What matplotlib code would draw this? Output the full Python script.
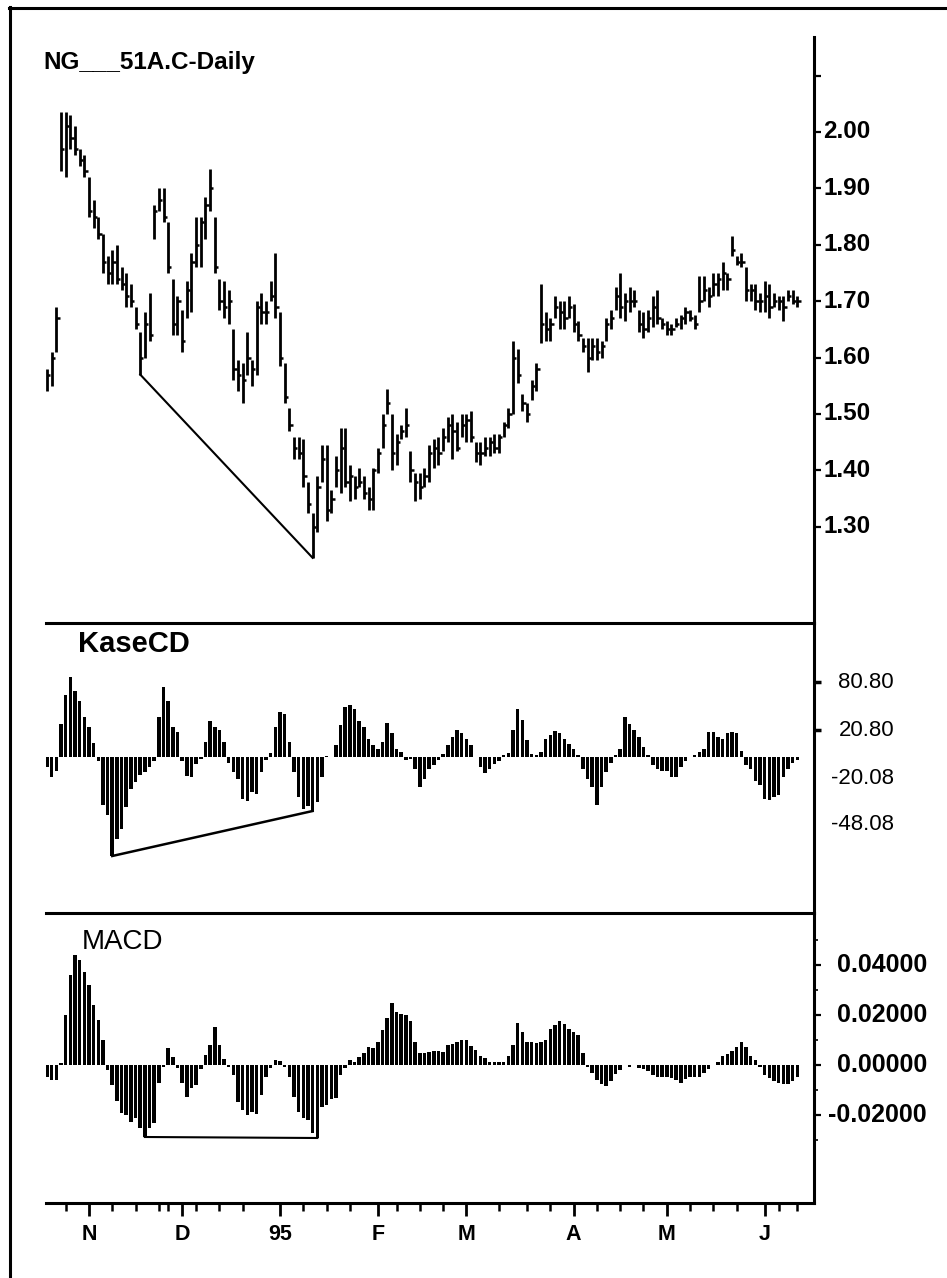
#!/usr/bin/env python3
"""
NG daily bar chart with KaseCD and MACD histograms (scanned chart redraw)
"""

import matplotlib
matplotlib.use("Agg")
import matplotlib.pyplot as plt
from matplotlib import font_manager
from matplotlib.lines import Line2D
from matplotlib.transforms import blended_transform_factory

# ---- data (one entry per trading day) ----
price_high = [
    1.58, 1.61, 1.69, 2.035, 2.035, 2.03, 2.01, 1.97, 1.96, 1.92,
    1.88, 1.85, 1.82, 1.78, 1.79, 1.80, 1.76, 1.75, 1.73, 1.69,
    1.645, 1.68, 1.715, 1.87, 1.90, 1.90, 1.84, 1.74, 1.71, 1.685,
    1.735, 1.785, 1.85, 1.85, 1.885, 1.935, 1.85, 1.74, 1.735, 1.72,
    1.65, 1.595, 1.59, 1.645, 1.595, 1.70, 1.715, 1.70, 1.735, 1.785,
    1.68, 1.59, 1.51, 1.46, 1.46, 1.455, 1.38, 1.325, 1.39, 1.445,
    1.445, 1.365, 1.425, 1.475, 1.475, 1.41, 1.39, 1.405, 1.39, 1.37,
    1.405, 1.44, 1.50, 1.545, 1.50, 1.465, 1.48, 1.51, 1.435, 1.395,
    1.395, 1.405, 1.445, 1.455, 1.46, 1.475, 1.495, 1.50, 1.485, 1.50,
    1.50, 1.505, 1.45, 1.45, 1.46, 1.46, 1.465, 1.465, 1.485, 1.51,
    1.63, 1.615, 1.535, 1.52, 1.56, 1.59, 1.73, 1.68, 1.67, 1.71,
    1.70, 1.70, 1.71, 1.695, 1.665, 1.635, 1.635, 1.635, 1.635, 1.63,
    1.67, 1.685, 1.725, 1.75, 1.715, 1.725, 1.72, 1.685, 1.68, 1.685,
    1.71, 1.72, 1.67, 1.665, 1.66, 1.67, 1.675, 1.69, 1.685, 1.675,
    1.745, 1.745, 1.725, 1.75, 1.75, 1.77, 1.75, 1.815, 1.78, 1.785,
    1.76, 1.73, 1.73, 1.715, 1.735, 1.73, 1.715, 1.71, 1.71, 1.72,
    1.72, 1.71,
]
price_low = [
    1.54, 1.55, 1.61, 1.93, 1.92, 1.97, 1.96, 1.94, 1.92, 1.85,
    1.83, 1.81, 1.75, 1.73, 1.73, 1.73, 1.72, 1.69, 1.69, 1.65,
    1.57, 1.60, 1.63, 1.81, 1.86, 1.84, 1.75, 1.64, 1.64, 1.61,
    1.67, 1.68, 1.76, 1.76, 1.81, 1.86, 1.75, 1.685, 1.67, 1.66,
    1.56, 1.54, 1.52, 1.57, 1.55, 1.57, 1.66, 1.66, 1.70, 1.67,
    1.585, 1.52, 1.47, 1.42, 1.42, 1.37, 1.325, 1.245, 1.29, 1.38,
    1.31, 1.325, 1.37, 1.36, 1.37, 1.345, 1.35, 1.37, 1.35, 1.33,
    1.33, 1.395, 1.44, 1.50, 1.40, 1.41, 1.455, 1.46, 1.38, 1.345,
    1.35, 1.37, 1.38, 1.405, 1.41, 1.435, 1.45, 1.42, 1.435, 1.46,
    1.45, 1.45, 1.415, 1.41, 1.425, 1.425, 1.43, 1.43, 1.46, 1.475,
    1.50, 1.555, 1.505, 1.485, 1.525, 1.54, 1.625, 1.63, 1.63, 1.67,
    1.65, 1.65, 1.67, 1.645, 1.63, 1.61, 1.575, 1.595, 1.595, 1.60,
    1.63, 1.65, 1.685, 1.67, 1.665, 1.68, 1.69, 1.645, 1.635, 1.645,
    1.655, 1.66, 1.65, 1.64, 1.64, 1.655, 1.65, 1.66, 1.665, 1.65,
    1.68, 1.70, 1.69, 1.71, 1.71, 1.72, 1.72, 1.78, 1.765, 1.76,
    1.70, 1.70, 1.685, 1.68, 1.68, 1.67, 1.69, 1.685, 1.665, 1.70,
    1.695, 1.69,
]
price_close = [
    1.57, 1.60, 1.67, 1.97, 2.01, 1.99, 1.97, 1.95, 1.93, 1.86,
    1.85, 1.82, 1.77, 1.75, 1.77, 1.74, 1.73, 1.71, 1.70, 1.66,
    1.60, 1.66, 1.64, 1.86, 1.88, 1.85, 1.76, 1.66, 1.70, 1.63,
    1.72, 1.77, 1.80, 1.84, 1.87, 1.90, 1.76, 1.70, 1.69, 1.70,
    1.58, 1.57, 1.56, 1.60, 1.58, 1.69, 1.68, 1.68, 1.71, 1.69,
    1.60, 1.53, 1.48, 1.44, 1.43, 1.39, 1.34, 1.30, 1.37, 1.42,
    1.33, 1.35, 1.40, 1.44, 1.38, 1.39, 1.37, 1.38, 1.36, 1.35,
    1.40, 1.43, 1.48, 1.52, 1.43, 1.45, 1.47, 1.48, 1.40, 1.38,
    1.37, 1.39, 1.43, 1.44, 1.43, 1.46, 1.48, 1.47, 1.44, 1.48,
    1.49, 1.46, 1.43, 1.43, 1.44, 1.45, 1.44, 1.46, 1.48, 1.50,
    1.60, 1.57, 1.52, 1.50, 1.55, 1.58, 1.66, 1.65, 1.66, 1.69,
    1.68, 1.67, 1.69, 1.66, 1.64, 1.62, 1.60, 1.62, 1.61, 1.62,
    1.66, 1.67, 1.71, 1.69, 1.70, 1.70, 1.70, 1.66, 1.65, 1.67,
    1.69, 1.67, 1.66, 1.65, 1.65, 1.66, 1.67, 1.68, 1.67, 1.66,
    1.70, 1.72, 1.71, 1.73, 1.74, 1.75, 1.74, 1.79, 1.77, 1.77,
    1.72, 1.72, 1.70, 1.70, 1.71, 1.69, 1.70, 1.70, 1.69, 1.71,
    1.70, 1.70,
]
kase_cd = [
    -10, -20, -14, 33, 62, 80, 66, 56, 40, 30,
    14, -4, -48, -58, -99, -82, -72, -50, -32, -25,
    -18, -15, -10, -4, 40, 70, 56, 30, 25, -4,
    -19, -20, -7, -2, 15, 36, 30, 27, 15, -6,
    -15, -22, -42, -44, -35, -37, -15, -3, 4, 30,
    45, 43, 15, -15, -40, -52, -49, -54, -45, -20,
    1, 0, 12, 32, 50, 52, 48, 36, 30, 18,
    12, 8, 15, 34, 24, 8, 5, -3, -2, -12,
    -30, -22, -12, -8, -3, 3, 12, 20, 27, 24,
    18, 12, 0, -10, -16, -12, -7, -4, 2, 4,
    27, 48, 37, 17, 3, 2, 5, 18, 22, 26,
    24, 18, 13, 8, 2, -12, -22, -30, -48, -30,
    -15, -6, 2, 8, 40, 33, 27, 20, 10, 2,
    -8, -12, -14, -14, -20, -20, -10, -4, 0, 2,
    5, 8, 25, 25, 20, 18, 24, 25, 24, 6,
    -8, -12, -24, -28, -42, -43, -40, -38, -20, -12,
    -6, -3,
]
macd = [
    -0.0048, -0.0060, -0.0060, 0.0008, 0.0200, 0.0360, 0.0440, 0.0420, 0.0372, 0.0320,
    0.0240, 0.0180, 0.0100, -0.0020, -0.0080, -0.0144, -0.0192, -0.0200, -0.0228, -0.0212,
    -0.0252, -0.0288, -0.0252, -0.0232, -0.0072, -0.0008, 0.0068, 0.0032, -0.0012, -0.0072,
    -0.0128, -0.0092, -0.0080, -0.0016, 0.0040, 0.0080, 0.0152, 0.0080, 0.0024, -0.0008,
    -0.0040, -0.0148, -0.0180, -0.0200, -0.0188, -0.0196, -0.0120, -0.0048, -0.0012, 0.0020,
    0.0016, -0.0008, -0.0048, -0.0128, -0.0188, -0.0212, -0.0220, -0.0272, -0.0292, -0.0168,
    -0.0160, -0.0136, -0.0132, -0.0040, -0.0012, 0.0020, 0.0012, 0.0032, 0.0048, 0.0072,
    0.0068, 0.0092, 0.0140, 0.0188, 0.0248, 0.0212, 0.0204, 0.0200, 0.0176, 0.0092,
    0.0048, 0.0048, 0.0052, 0.0056, 0.0056, 0.0052, 0.0080, 0.0084, 0.0092, 0.0100,
    0.0100, 0.0076, 0.0060, 0.0036, 0.0028, 0.0012, 0.0012, 0.0012, 0.0012, 0.0036,
    0.0080, 0.0168, 0.0132, 0.0092, 0.0092, 0.0088, 0.0092, 0.0100, 0.0144, 0.0160,
    0.0176, 0.0164, 0.0144, 0.0132, 0.0120, 0.0048, -0.0008, -0.0032, -0.0060, -0.0076,
    -0.0084, -0.0064, -0.0036, -0.0020, 0.0000, -0.0008, 0.0000, -0.0012, -0.0016, -0.0024,
    -0.0040, -0.0048, -0.0048, -0.0048, -0.0052, -0.0060, -0.0072, -0.0056, -0.0048, -0.0048,
    -0.0048, -0.0032, -0.0016, 0.0000, 0.0012, 0.0036, 0.0044, 0.0056, 0.0072, 0.0092,
    0.0072, 0.0036, 0.0020, -0.0008, -0.0040, -0.0052, -0.0064, -0.0072, -0.0076, -0.0076,
    -0.0064, -0.0048,
]
days = list(range(len(price_high)))

# hand-drawn divergence lines: (start day, end day)
price_trend = (20, 57)
kase_trend = (14, 57)
macd_trend = (21, 58)

month_ticks = [9, 29, 50, 71, 90, 113, 133, 154]
month_labels = ['N', 'D', '95', 'F', 'M', 'A', 'M', 'J']
week_ticks = [4, 14, 19, 24, 26, 32, 37, 42, 55, 60, 65, 75, 80, 85,
              97, 103, 108, 118, 123, 128, 138, 143, 148, 157, 161]

price_ticks = [1.30, 1.40, 1.50, 1.60, 1.70, 1.80, 1.90, 2.00]
price_labels = ['1.30', '1.40', '1.50', '1.60', '1.70', '1.80', '1.90', '2.00']
kase_ticks = [75, 27, -21, -68]
kase_labels = ['80.80', '20.80', '-20.08', '-48.08']
macd_ticks = [0.04, 0.02, 0.0, -0.02]
macd_minor = [0.05, 0.03, 0.01, -0.01, -0.03]
macd_labels = ['0.04000', '0.02000', '0.00000', '-0.02000']

# ---- fonts ----
names = {f.name for f in font_manager.fontManager.ttflist}
SANS = 'Liberation Sans' if 'Liberation Sans' in names else 'DejaVu Sans'
NARROW = 'Liberation Sans Narrow' if 'Liberation Sans Narrow' in names else SANS
plt.rcParams['font.family'] = [SANS, 'DejaVu Sans']

W, H = 947, 1278
fig = plt.figure(figsize=(W / 100, H / 100), dpi=100)


def fx(px):
    return px / W


def fy(py):
    return 1 - py / H


LEFT, RIGHT = 46, 814
X0, STEP = 47, 4.66          # pixel of day 0, pixels per day
XLIM = ((LEFT - X0) / STEP, (RIGHT - X0) / STEP)
LW = 2.2


def panel(top, bottom):
    ax = fig.add_axes([fx(LEFT), fy(bottom), fx(RIGHT) - fx(LEFT), (bottom - top) / H])
    ax.set_xlim(*XLIM)
    for side in ('left', 'top'):
        ax.spines[side].set_visible(False)
    for side in ('right', 'bottom'):
        ax.spines[side].set_linewidth(LW)
    ax.yaxis.tick_right()
    ax.tick_params(axis='y', direction='out', length=5, width=1.6, labelright=False)
    ax.set_xticks([])
    ax.patch.set_alpha(0)
    return ax


# ---- price panel ----
ax_p = panel(37, 623)
ax_p.set_ylim(2.00 - (623 - 132) / 564, 2.00 + (132 - 37) / 564)
ax_p.vlines(days, price_low, price_high, color='k', lw=2.0)
ax_p.hlines(price_close, [d for d in days], [d + 0.7 for d in days], color='k', lw=1.8)
a, b = price_trend
ax_p.plot([a, b], [price_low[a], price_low[b]], color='k', lw=1.5)
ax_p.set_yticks(price_ticks + [2.10])
ax_p.set_yticklabels([])
tp = blended_transform_factory(fig.transFigure, ax_p.transData)
for v, s in zip(price_ticks, price_labels):
    ax_p.text(fx(823), v, s, transform=tp, ha='left', va='center',
              fontsize=17.5, fontweight='bold', family=SANS)
fig.text(fx(43), fy(63), 'NG___51A.C-Daily', ha='left', va='center',
         fontsize=17.5, fontweight='bold', family=SANS)

# ---- KaseCD panel ----
ax_k = panel(623, 913)
ax_k.set_ylim(-(913 - 757), 757 - 623)
ax_k.bar(days, kase_cd, width=0.75, color='k', linewidth=0)
a, b = kase_trend
ax_k.plot([a, b], [kase_cd[a], kase_cd[b]], color='k', lw=1.8)
ax_k.set_yticks(kase_ticks[:2])
ax_k.set_yticklabels([])
ax_k.tick_params(axis='y', length=5, width=2.5)
tk = blended_transform_factory(fig.transFigure, ax_k.transData)
for v, s in zip(kase_ticks, kase_labels):
    ax_k.text(fx(894), v, s, transform=tk, ha='right', va='center',
              fontsize=16, family=NARROW)
fig.text(fx(78), fy(644), 'KaseCD', ha='left', va='center',
         fontsize=21, fontweight='bold', family=SANS)

# ---- MACD panel ----
ax_m = panel(913, 1203)
ax_m.set_ylim(-(1203 - 1065) * 0.0004, (1065 - 913) * 0.0004)
ax_m.bar(days, macd, width=0.75, color='k', linewidth=0)
a, b = macd_trend
ax_m.plot([a, b], [macd[a], macd[b]], color='k', lw=1.5)
ax_m.set_yticks(macd_ticks)
ax_m.set_yticks(macd_minor, minor=True)
ax_m.set_yticklabels([])
ax_m.tick_params(axis='y', which='minor', direction='out', length=3, width=1.2)
tm = blended_transform_factory(fig.transFigure, ax_m.transData)
for v, s in zip(macd_ticks, macd_labels):
    ax_m.text(fx(927), v, s, transform=tm, ha='right', va='center',
              fontsize=18, fontweight='bold', family=SANS)
fig.text(fx(82), fy(942), 'MACD', ha='left', va='center', fontsize=20, family=SANS)

ax_m.set_xticks(month_ticks)
ax_m.set_xticklabels(month_labels, fontsize=15.5, fontweight='bold')
ax_m.set_xticks(week_ticks, minor=True)
ax_m.tick_params(axis='x', which='major', direction='out', length=9, width=2, pad=6)
ax_m.tick_params(axis='x', which='minor', direction='out', length=6, width=1.8)

# ---- outer frame (top and left edges of the scanned page) ----
fig.add_artist(Line2D([fx(9), 1], [fy(7.5), fy(7.5)], color='k', lw=LW))
fig.add_artist(Line2D([fx(9.5), fx(9.5)], [fy(7), 0], color='k', lw=LW))

fig.savefig('out.png', dpi=100, facecolor='white')
